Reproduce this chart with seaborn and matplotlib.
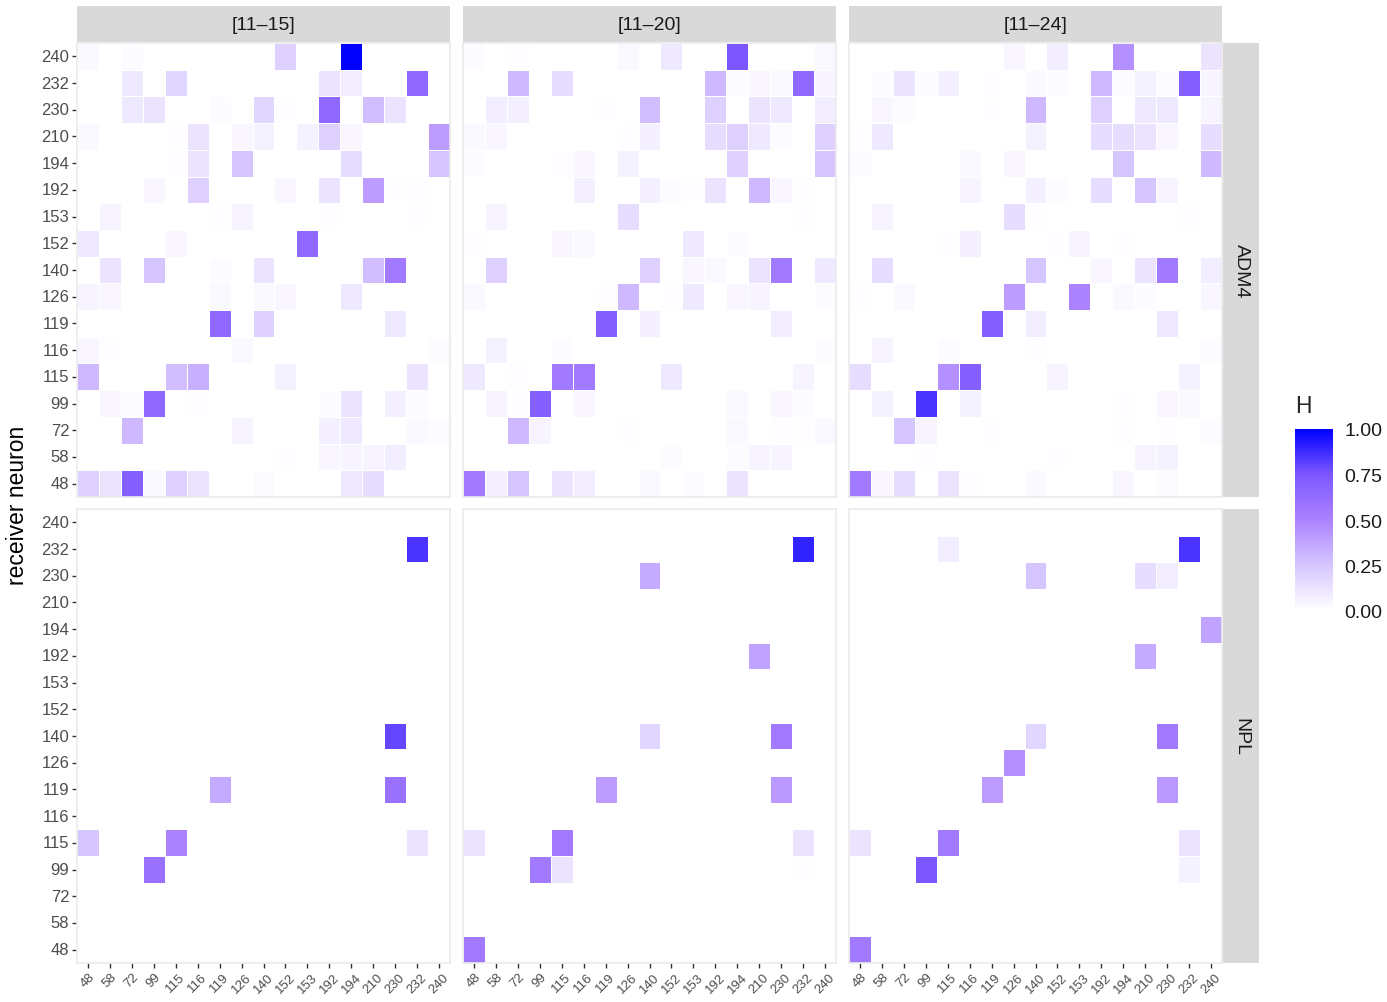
import numpy as np
import pandas as pd
import matplotlib
matplotlib.use('Agg')
import matplotlib.pyplot as plt
import seaborn as sns
from matplotlib.colors import LinearSegmentedColormap

# ── Data ─────────────────────────────────────────────────────────────
neurons = [48, 58, 72, 99, 115, 116, 119, 126, 140, 152, 153, 192, 194, 210, 230, 232, 240]
windows = ['[11–15]', '[11–20]', '[11–24]']
conditions = ['ADM4', 'NPL']

# entries are (receiver, sender, H); cells not listed are 0
adm4_11_15 = [
    (240, 48, .03), (240, 72, .02), (240, 152, .2), (240, 194, 1.0),
    (232, 72, .1), (232, 115, .18), (232, 192, .12), (232, 194, .08), (232, 232, .65),
    (230, 72, .1), (230, 99, .12), (230, 119, .02), (230, 140, .18), (230, 152, .01),
    (230, 192, .65), (230, 210, .28), (230, 230, .12),
    (210, 48, .03), (210, 115, .01), (210, 116, .12), (210, 126, .04), (210, 140, .06),
    (210, 153, .06), (210, 192, .2), (210, 194, .04), (210, 240, .4),
    (194, 115, .01), (194, 116, .12), (194, 126, .25), (194, 194, .15), (194, 240, .25),
    (192, 99, .04), (192, 116, .2), (192, 152, .04), (192, 192, .12), (192, 210, .4),
    (192, 230, .01), (192, 232, .01),
    (153, 58, .05), (153, 119, .01), (153, 126, .05), (153, 192, .01), (153, 232, .01),
    (152, 48, .1), (152, 115, .04), (152, 153, .65),
    (140, 58, .12), (140, 99, .25), (140, 119, .02), (140, 140, .12), (140, 210, .28), (140, 230, .55),
    (126, 48, .05), (126, 58, .04), (126, 119, .03), (126, 140, .03), (126, 152, .04), (126, 194, .1),
    (119, 119, .65), (119, 140, .2), (119, 230, .1),
    (116, 48, .04), (116, 58, .01), (116, 126, .03), (116, 240, .02),
    (115, 48, .3), (115, 115, .28), (115, 116, .33), (115, 152, .06), (115, 232, .12),
    (99, 58, .04), (99, 72, .02), (99, 99, .65), (99, 116, .01), (99, 192, .02),
    (99, 194, .12), (99, 230, .07), (99, 232, .02),
    (72, 72, .3), (72, 126, .05), (72, 192, .07), (72, 194, .1), (72, 232, .03), (72, 240, .02),
    (58, 152, .01), (58, 192, .04), (58, 194, .05), (58, 210, .05), (58, 230, .08),
    (48, 48, .2), (48, 58, .12), (48, 72, .7), (48, 99, .03), (48, 115, .2), (48, 116, .12),
    (48, 140, .02), (48, 194, .1), (48, 210, .15),
]

adm4_11_20 = [
    (240, 48, .02), (240, 72, .01), (240, 126, .03), (240, 152, .1), (240, 194, .75), (240, 240, .03),
    (232, 72, .3), (232, 115, .15), (232, 192, .3), (232, 194, .02), (232, 210, .04),
    (232, 230, .03), (232, 232, .65), (232, 240, .05),
    (230, 58, .08), (230, 72, .07), (230, 119, .01), (230, 140, .28), (230, 192, .2),
    (230, 210, .12), (230, 230, .1), (230, 240, .08),
    (210, 48, .03), (210, 58, .04), (210, 126, .01), (210, 140, .07), (210, 192, .15),
    (210, 194, .2), (210, 210, .1), (210, 230, .02), (210, 240, .2),
    (194, 48, .02), (194, 115, .01), (194, 116, .04), (194, 126, .06), (194, 194, .2), (194, 240, .25),
    (192, 116, .07), (192, 140, .07), (192, 152, .02), (192, 153, .01), (192, 192, .12),
    (192, 210, .3), (192, 230, .04), (192, 232, .01),
    (153, 58, .05), (153, 126, .15), (153, 232, .01),
    (152, 48, .01), (152, 115, .04), (152, 116, .03), (152, 153, .1), (152, 194, .02),
    (140, 58, .2), (140, 140, .2), (140, 153, .04), (140, 192, .03), (140, 210, .12),
    (140, 230, .55), (140, 240, .1),
    (126, 48, .03), (126, 119, .01), (126, 126, .3), (126, 152, .01), (126, 153, .1),
    (126, 194, .04), (126, 210, .05), (126, 240, .02),
    (119, 119, .7), (119, 140, .07), (119, 230, .08),
    (116, 58, .06), (116, 115, .02), (116, 240, .02),
    (115, 48, .1), (115, 72, .01), (115, 115, .55), (115, 116, .55), (115, 152, .1), (115, 232, .05),
    (99, 58, .05), (99, 72, .01), (99, 99, .7), (99, 116, .04), (99, 194, .03), (99, 230, .04), (99, 232, .02),
    (72, 72, .3), (72, 99, .05), (72, 126, .01), (72, 194, .03), (72, 230, .01), (72, 232, .01), (72, 240, .03),
    (58, 152, .02), (58, 194, .02), (58, 210, .05), (58, 230, .05),
    (48, 48, .55), (48, 58, .07), (48, 72, .25), (48, 115, .12), (48, 116, .08),
    (48, 140, .03), (48, 153, .02), (48, 194, .12),
]

adm4_11_24 = [
    (240, 126, .04), (240, 152, .08), (240, 194, .45), (240, 240, .12),
    (232, 58, .02), (232, 72, .12), (232, 99, .02), (232, 115, .07), (232, 119, .01),
    (232, 140, .03), (232, 152, .02), (232, 192, .3), (232, 194, .02), (232, 210, .06),
    (232, 230, .02), (232, 232, .7), (232, 240, .05),
    (230, 58, .04), (230, 72, .02), (230, 119, .01), (230, 140, .3), (230, 192, .2),
    (230, 210, .1), (230, 230, .1), (230, 240, .05),
    (210, 48, .01), (210, 58, .1), (210, 140, .06), (210, 192, .15), (210, 194, .15),
    (210, 210, .12), (210, 230, .04), (210, 240, .15),
    (194, 48, .02), (194, 116, .03), (194, 126, .04), (194, 194, .25), (194, 240, .3),
    (192, 116, .05), (192, 140, .07), (192, 152, .02), (192, 192, .15), (192, 210, .25), (192, 230, .05),
    (153, 58, .05), (153, 126, .15), (153, 140, .01), (153, 232, .01),
    (152, 115, .01), (152, 116, .07), (152, 152, .01), (152, 153, .05), (152, 194, .01),
    (140, 58, .15), (140, 140, .25), (140, 192, .04), (140, 210, .12), (140, 230, .55), (140, 240, .08),
    (126, 48, .01), (126, 72, .03), (126, 126, .4), (126, 153, .5), (126, 194, .03),
    (126, 210, .02), (126, 240, .04),
    (119, 119, .7), (119, 140, .08), (119, 230, .1),
    (116, 58, .05), (116, 115, .02), (116, 140, .01), (116, 240, .02),
    (115, 48, .15), (115, 115, .45), (115, 116, .7), (115, 152, .05), (115, 232, .06),
    (99, 58, .06), (99, 99, .85), (99, 116, .06), (99, 194, .01), (99, 230, .04), (99, 232, .03),
    (72, 72, .25), (72, 99, .05), (72, 119, .01), (72, 194, .01), (72, 230, .01), (72, 240, .02),
    (58, 99, .01), (58, 152, .01), (58, 210, .05), (58, 230, .06),
    (48, 48, .55), (48, 58, .04), (48, 72, .15), (48, 115, .12), (48, 116, .01),
    (48, 140, .03), (48, 194, .04), (48, 230, .02),
]

npl_11_15 = [
    (232, 232, .85), (140, 230, .8), (119, 119, .35), (119, 230, .6),
    (115, 48, .25), (115, 115, .5), (115, 232, .12), (99, 99, .6),
]

npl_11_20 = [
    (232, 232, .9), (230, 140, .35), (192, 210, .38), (140, 140, .18), (140, 230, .55),
    (119, 119, .4), (119, 230, .42), (115, 48, .12), (115, 115, .55), (115, 232, .12),
    (99, 99, .55), (99, 115, .12), (99, 232, .01), (48, 48, .55),
]

npl_11_24 = [
    (232, 115, .08), (232, 232, .85), (230, 140, .25), (230, 210, .15), (230, 230, .08),
    (194, 240, .38), (192, 210, .35), (140, 140, .18), (140, 230, .55), (126, 126, .45),
    (119, 119, .4), (119, 230, .42), (115, 48, .12), (115, 115, .55), (115, 232, .12),
    (99, 99, .75), (99, 232, .06), (48, 48, .55),
]

panels = {
    ('ADM4', '[11–15]'): adm4_11_15, ('ADM4', '[11–20]'): adm4_11_20, ('ADM4', '[11–24]'): adm4_11_24,
    ('NPL', '[11–15]'): npl_11_15, ('NPL', '[11–20]'): npl_11_20, ('NPL', '[11–24]'): npl_11_24,
}

# ── Style ────────────────────────────────────────────────────────────
sns.set_style('white')
plt.rcParams['font.family'] = ['Liberation Sans', 'DejaVu Sans']

cmap = LinearSegmentedColormap.from_list(
    'H', [(0, '#FFFFFF'), (0.25, '#D6C6FF'), (0.5, '#AB82FF'), (0.75, '#7D58FF'), (1, '#0000FF')])

W, H = 1387, 1003
fig = plt.figure(figsize=(W / 100, H / 100), dpi=100)

def px_axes(x, y, w, h):
    return fig.add_axes([x / W, 1 - (y + h) / H, w / W, h / H])

col_x = [77, 463, 849]
row_y = [44, 510]
pw, ph = 373, 454

mappable = None
for r, cond in enumerate(conditions):
    for c, win in enumerate(windows):
        df = pd.DataFrame(panels[(cond, win)], columns=['receiver', 'sender', 'H'])
        mat = (df.pivot_table(index='receiver', columns='sender', values='H')
                 .reindex(index=neurons[::-1], columns=neurons).fillna(0))
        ax = px_axes(col_x[c], row_y[r], pw, ph)
        sns.heatmap(mat, ax=ax, cmap=cmap, vmin=0, vmax=1, cbar=False,
                    linewidths=0.7, linecolor='white',
                    xticklabels=[str(n) for n in neurons],
                    yticklabels=[str(n) for n in neurons[::-1]])
        mappable = ax.collections[0]
        ax.set_xlabel('')
        ax.set_ylabel('')
        for s in ax.spines.values():
            s.set_visible(True)
            s.set_color('#EBEBEB')
            s.set_linewidth(1.2)
        if c == 0:
            ax.tick_params(axis='y', length=3.5, width=1, color='#333333',
                           labelsize=12, labelcolor='#4D4D4D', pad=2, left=True)
            plt.setp(ax.get_yticklabels(), rotation=0)
        else:
            ax.tick_params(axis='y', left=False, labelleft=False)
        if r == 1:
            ax.tick_params(axis='x', length=3.5, width=1, color='#333333',
                           labelsize=9.5, labelcolor='#4D4D4D', pad=2, bottom=True)
            plt.setp(ax.get_xticklabels(), rotation=45, ha='center', va='top')
        else:
            ax.tick_params(axis='x', bottom=False, labelbottom=False)

        # top strips
        if r == 0:
            sax = px_axes(col_x[c], 7, pw, 36)
            sax.set_facecolor('#D9D9D9')
            sax.set_xticks([]); sax.set_yticks([])
            for s in sax.spines.values():
                s.set_visible(False)
            sax.text(0.5, 0.5, win, ha='center', va='center', fontsize=14, color='#1A1A1A')

    # right strips
    sax = px_axes(1223, row_y[r], 36, ph)
    sax.set_facecolor('#D9D9D9')
    sax.set_xticks([]); sax.set_yticks([])
    for s in sax.spines.values():
        s.set_visible(False)
    sax.text(0.5, 0.5, cond, ha='center', va='center', rotation=270, fontsize=14, color='#1A1A1A')

fig.text(18 / W, 1 - 505 / H, 'receiver neuron', rotation=90, ha='center', va='center',
         fontsize=16.5, color='black')

# ── Legend ───────────────────────────────────────────────────────────
cax = px_axes(1295, 430, 38, 182)
cbar = fig.colorbar(mappable, cax=cax)
cbar.outline.set_visible(False)
cbar.set_ticks([0, 0.25, 0.5, 0.75, 1.0])
cbar.set_ticklabels(['0.00', '0.25', '0.50', '0.75', '1.00'])
cax.yaxis.set_ticks_position('both')
cax.tick_params(direction='in', color='white', length=7, width=1,
                labelleft=False, labelright=True, labelsize=14, labelcolor='#1A1A1A', pad=8)
fig.text(1295 / W, 1 - 407 / H, 'H', ha='left', va='center', fontsize=16.5)

fig.savefig('out.png', dpi=100)
